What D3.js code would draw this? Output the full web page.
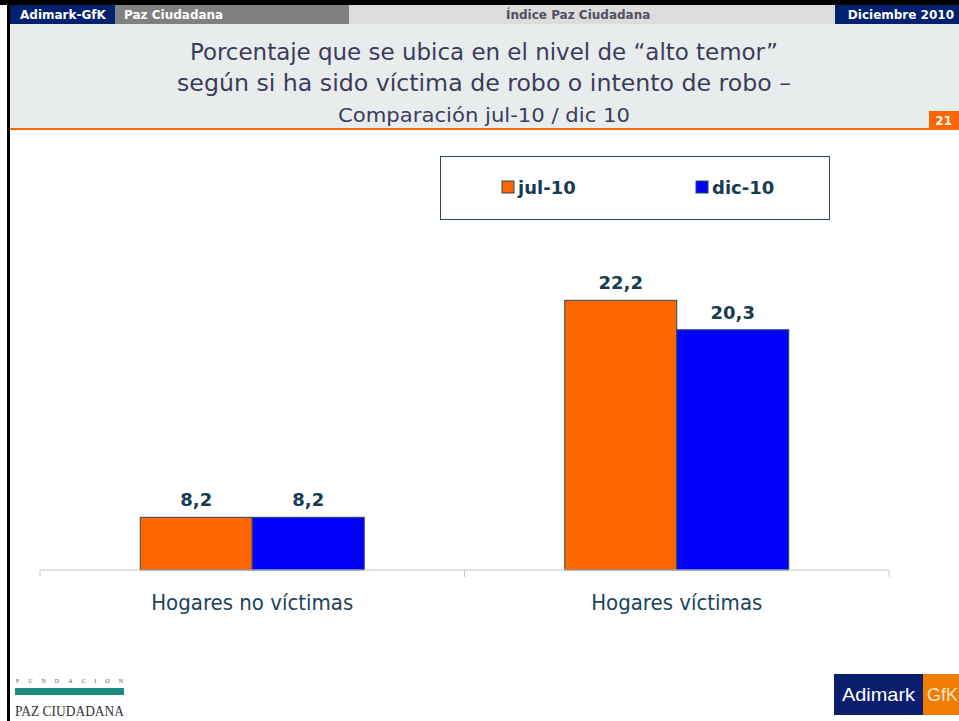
<!DOCTYPE html>
<meta charset="utf-8">
<style>
body { margin: 0; background: #fff; }
svg { display: block; font-family: "DejaVu Sans", Verdana, sans-serif; }
.axis path, .axis line { stroke: #c8c8c8; }
</style>
<body>
<script src="https://d3js.org/d3.v7.min.js"></script>
<script>

// data
var categories = ["Hogares no víctimas", "Hogares víctimas"];
var seriesNames = ["jul-10", "dic-10"];
var jul10 = [8.2, 22.2];
var dic10 = [8.2, 20.3];
var colors = ["#ff6600", "#0000ff"];

var width = 959, height = 721;

var svg = d3.select("body").append("svg")
    .attr("width", width)
    .attr("height", height);

// header strip
svg.append("rect").attr("x", 0).attr("y", 0).attr("width", width).attr("height", 5).style("fill", "#000");
svg.append("rect").attr("x", 7).attr("y", 0).attr("width", 3).attr("height", height).style("fill", "#000");
svg.append("rect").attr("x", 10).attr("y", 5).attr("width", 105).attr("height", 19).style("fill", "#002170");
svg.append("rect").attr("x", 115).attr("y", 5).attr("width", 234).attr("height", 19).style("fill", "#808080");
svg.append("rect").attr("x", 349).attr("y", 5).attr("width", 486).attr("height", 19).style("fill", "#dcdcdc");
svg.append("rect").attr("x", 835).attr("y", 5).attr("width", 124).attr("height", 19).style("fill", "#002170");

var hdr = svg.append("g").style("font-weight", "bold").style("font-size", "12px");
hdr.append("text").attr("x", 20).attr("y", 19).text("Adimark-GfK").style("fill", "#fff");
hdr.append("text").attr("x", 124).attr("y", 19).text("Paz Ciudadana").style("fill", "#fff");
hdr.append("text").attr("x", 506).attr("y", 19).text("Índice Paz Ciudadana").style("fill", "#505060");
hdr.append("text").attr("x", 954).attr("y", 19).attr("text-anchor", "end").text("Diciembre 2010").style("fill", "#fff");

// title band
svg.append("rect").attr("x", 10).attr("y", 24).attr("width", width - 10).attr("height", 104).style("fill", "#e9eced");
svg.append("rect").attr("x", 10).attr("y", 128).attr("width", width - 10).attr("height", 2).style("fill", "#ff6600");
svg.append("rect").attr("x", 929).attr("y", 111).attr("width", 30).attr("height", 18).style("fill", "#ff6600");
svg.append("text").attr("x", 952).attr("y", 125).attr("text-anchor", "end").text("21")
    .style("font-weight", "bold").style("font-size", "12px").style("fill", "#fff");

var title = [
  {t: "Porcentaje que se ubica en el nivel de “alto temor”", y: 60, s: 23, w: 588},
  {t: "según si ha sido víctima de robo o intento de robo –", y: 91, s: 23, w: 614},
  {t: "Comparación jul-10 / dic 10", y: 122, s: 19, w: 292}
];
svg.selectAll(".title").data(title).enter().append("text")
    .attr("class", "title")
    .attr("x", 484).attr("y", function(d) { return d.y; })
    .attr("text-anchor", "middle")
    .attr("textLength", function(d) { return d.w; })
    .attr("lengthAdjust", "spacingAndGlyphs")
    .style("font-family", "'DejaVu Sans Condensed', sans-serif")
    .style("font-size", function(d) { return d.s + "px"; })
    .style("fill", "#3c3c5a")
    .text(function(d) { return d.t; });

// chart
var x0 = d3.scaleBand().domain(categories).range([40, 889]).paddingInner(0).paddingOuter(0);
var x1 = d3.scaleBand().domain(seriesNames).range([0, 224]);
var y = d3.scaleLinear().domain([4.8, 30]).range([570, 179.4]);

var rows = categories.map(function(c, i) {
  return {cat: c, vals: [jul10[i], dic10[i]]};
});

var groups = svg.selectAll(".grp").data(rows).enter().append("g")
    .attr("class", "grp")
    .attr("transform", function(d) { return "translate(" + (x0(d.cat) + x0.bandwidth() / 2 - 112) + ",0)"; });

groups.selectAll("rect").data(function(d) { return d.vals.map(function(v, j) { return {v: v, s: seriesNames[j], j: j}; }); })
  .enter().append("rect")
    .attr("x", function(d) { return x1(d.s); })
    .attr("y", function(d) { return y(d.v); })
    .attr("width", x1.bandwidth())
    .attr("height", function(d) { return 570 - y(d.v); })
    .style("fill", function(d) { return colors[d.j]; })
    .style("stroke", "#2b4a5a")
    .style("stroke-width", 1);

groups.selectAll(".val").data(function(d) { return d.vals.map(function(v, j) { return {v: v, s: seriesNames[j]}; }); })
  .enter().append("text")
    .attr("class", "val")
    .attr("x", function(d) { return x1(d.s) + x1.bandwidth() / 2; })
    .attr("y", function(d) { return y(d.v) - 11; })
    .attr("text-anchor", "middle")
    .style("font-weight", "bold").style("font-size", "18px").style("fill", "#173b4f")
    .text(function(d) { return d3.format(".1f")(d.v).replace(".", ","); });

// x axis
var xAxis = svg.append("g").attr("class", "axis")
    .attr("transform", "translate(0,570)")
    .call(d3.axisBottom(x0).tickSize(0).tickFormat(""));
xAxis.selectAll(".tick").remove();
xAxis.select(".domain").attr("d", "M40,7V0H889V7");
svg.selectAll(".midtick").data([x0.range()[0] + x0.bandwidth()]).enter().append("line")
    .attr("x1", function(d) { return d; }).attr("x2", function(d) { return d; })
    .attr("y1", 570).attr("y2", 577).style("stroke", "#c8c8c8");

svg.selectAll(".cat").data(categories).enter().append("text")
    .attr("class", "cat")
    .attr("x", function(d) { return x0(d) + x0.bandwidth() / 2; })
    .attr("y", 610)
    .attr("text-anchor", "middle")
    .style("font-family", "'DejaVu Sans Condensed', sans-serif")
    .style("font-size", "22px").style("fill", "#1b4459")
    .text(function(d) { return d; });

// legend
svg.append("rect").attr("x", 440.5).attr("y", 156.5).attr("width", 389).attr("height", 63)
    .style("fill", "#fff").style("stroke", "#2b4a5a");
var lx = [502, 696];
var leg = svg.selectAll(".leg").data(seriesNames).enter().append("g")
    .attr("class", "leg")
    .attr("transform", function(d, i) { return "translate(" + lx[i] + ",181)"; });
leg.append("rect").attr("width", 12).attr("height", 12)
    .style("fill", function(d, i) { return colors[i]; }).style("stroke", "#2b4a5a");
leg.append("text").attr("x", 16).attr("y", 13)
    .style("font-weight", "bold").style("font-size", "18px").style("fill", "#173b4f")
    .text(function(d) { return d; });

// footer logos
svg.append("text").attr("x", 16).attr("y", 683).text("FUNDACION")
    .attr("textLength", 107).attr("lengthAdjust", "spacing")
    .style("font-family", "Liberation Serif").style("font-size", "6px").style("fill", "#555");
svg.append("rect").attr("x", 15).attr("y", 688).attr("width", 109).attr("height", 7).style("fill", "#1a8a7a");
svg.append("text").attr("x", 15).attr("y", 716).text("PAZ CIUDADANA")
    .attr("textLength", 109).attr("lengthAdjust", "spacingAndGlyphs")
    .style("font-family", "Liberation Serif").style("font-size", "15px").style("fill", "#333");

svg.append("rect").attr("x", 834).attr("y", 674).attr("width", 89).attr("height", 41).style("fill", "#0b1f6e");
svg.append("rect").attr("x", 923).attr("y", 674).attr("width", 36).attr("height", 41).style("fill", "#f07d00");
svg.append("text").attr("x", 842).attr("y", 701).text("Adimark")
    .attr("textLength", 73).attr("lengthAdjust", "spacingAndGlyphs")
    .style("font-family", "'Liberation Sans', sans-serif")
    .style("font-size", "19px").style("fill", "#fff");
svg.append("text").attr("x", 927).attr("y", 701).text("GfK")
    .style("font-family", "'Liberation Sans', sans-serif")
    .style("font-size", "18px").style("fill", "#fde6cc");

</script>
</body>
